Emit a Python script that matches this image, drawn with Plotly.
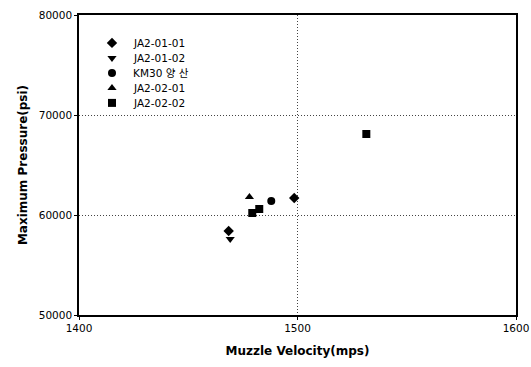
import plotly.graph_objects as go

series_names = ["JA2-01-01", "JA2-01-02", "KM30 양 산", "JA2-02-01", "JA2-02-02"]
velocity = [
    [1468.5, 1498.5],
    [1469.2],
    [1488.0],
    [1478.0],
    [1479.3, 1482.5, 1531.5],
]
pressure = [
    [58400, 61700],
    [57600],
    [61400],
    [61800],
    [60200, 60600, 68100],
]
symbols = ["diamond", "triangle-down", "circle", "triangle-up", "square"]
x_ticks = [1400, 1500, 1600]
y_ticks = [50000, 60000, 70000, 80000]

FONT = "'DejaVu Sans', Verdana, 'Noto Sans CJK KR', sans-serif"

fig = go.Figure()
for name, xs, ys, sym in zip(series_names, velocity, pressure, symbols):
    fig.add_trace(go.Scatter(
        x=xs, y=ys, mode="markers", name=name, showlegend=False,
        marker=dict(symbol=sym, size=8, color="black", line=dict(width=0)),
    ))

# manual legend (tighter row spacing than Plotly's built-in legend allows)
leg_x_marker = 0.0755
leg_x_text = 0.118
leg_y0 = 0.907
leg_dy = 0.05
n = len(series_names)
leg_ys = [leg_y0 - i * leg_dy for i in range(n)]
fig.add_trace(go.Scatter(
    x=[leg_x_marker] * n, y=leg_ys, mode="markers", showlegend=False,
    hoverinfo="skip", xaxis="x2", yaxis="y2",
    marker=dict(symbol=symbols, size=8, color="black", line=dict(width=0)),
))
for name, yy in zip(series_names, leg_ys):
    fig.add_annotation(x=leg_x_text, y=yy, xref="paper", yref="paper",
                       text=name, showarrow=False, xanchor="left", yanchor="middle",
                       font=dict(size=10.5, family=FONT, color="black"))

fig.update_layout(
    width=531, height=367, autosize=False,
    margin=dict(l=79, r=15, t=15, b=52, pad=0, autoexpand=False),
    paper_bgcolor="white", plot_bgcolor="white",
    font=dict(family=FONT, size=10, color="black"),
    showlegend=False,
    xaxis2=dict(range=[0, 1], overlaying="x", visible=False, fixedrange=True),
    yaxis2=dict(range=[0, 1], overlaying="y", visible=False, fixedrange=True),
    xaxis=dict(
        range=[1400, 1600], tickvals=x_ticks, ticktext=[str(v) for v in x_ticks],
        showline=True, linecolor="black", linewidth=1.5, mirror=True,
        ticks="outside", ticklen=3, tickcolor="black", automargin=False,
        tickfont=dict(size=10.5),
        showgrid=True, gridcolor="#444", griddash="1px,2px", gridwidth=1,
        zeroline=False,
        title=dict(text="<b>Muzzle Velocity(mps)</b>", font=dict(size=12), standoff=13),
    ),
    yaxis=dict(
        range=[50000, 80000], tickvals=y_ticks, ticktext=[str(v) for v in y_ticks],
        showline=True, linecolor="black", linewidth=1.5, mirror=True,
        ticks="outside", ticklen=3, tickcolor="black", automargin=False,
        tickfont=dict(size=10.5),
        showgrid=True, gridcolor="#444", griddash="1px,2px", gridwidth=1,
        zeroline=False,
        title=dict(text="<b>Maximum Pressure(psi)</b>", font=dict(size=12), standoff=9),
    ),
)

fig.write_html("out.html")
